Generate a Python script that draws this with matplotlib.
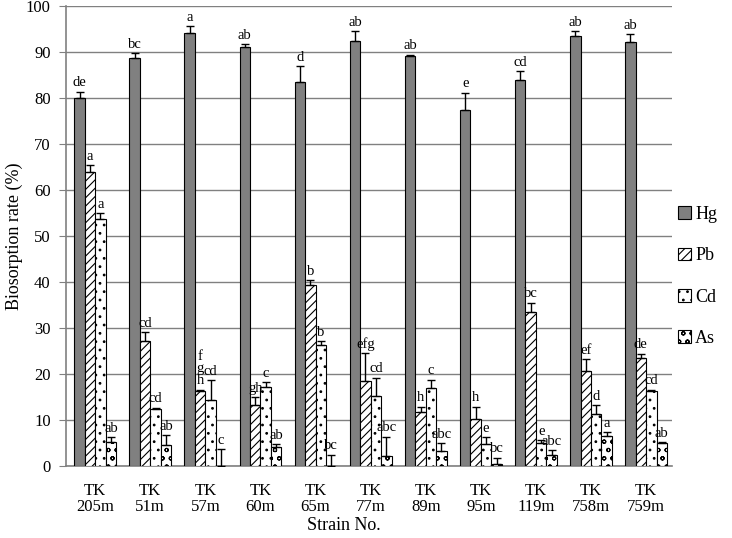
import numpy as np
import matplotlib
matplotlib.use('Agg')
import matplotlib.pyplot as plt

plt.rcParams['font.family'] = ['Liberation Serif', 'DejaVu Serif']
plt.rcParams['hatch.linewidth'] = 0.8

strains = ['205m', '51m', '57m', '60m', '65m', '77m', '89m', '95m', '119m', '758m', '759m']
metals = ['Hg', 'Pb', 'Cd', 'As']

# mean biosorption (%) and upper error for each metal
hg = [80.1, 88.8, 94.1, 91.2, 83.4, 92.4, 89.2, 77.3, 83.9, 93.5, 92.2]
hg_err = [1.3, 1.0, 1.6, 0.5, 3.6, 2.2, 0.2, 3.9, 1.9, 1.1, 1.7]
pb = [64.0, 27.2, 16.4, 13.2, 39.3, 18.4, 11.7, 10.3, 33.4, 20.7, 23.4]
pb_err = [1.4, 1.9, 0.2, 1.7, 1.1, 6.1, 1.2, 2.6, 2.1, 2.5, 1.0]
cd = [53.6, 12.3, 14.3, 17.2, 26.4, 15.2, 17.0, 4.8, 4.9, 11.4, 16.2]
cd_err = [1.3, 0.4, 4.3, 1.1, 0.8, 4.0, 1.8, 1.4, 0.7, 1.8, 0.4]
as_ = [5.2, 4.5, 0.0, 4.2, 0.0, 2.2, 3.3, 0.4, 2.5, 6.6, 4.9]
as_err = [1.1, 2.2, 3.7, 0.6, 2.5, 4.2, 1.6, 1.4, 0.9, 0.8, 0.3]

hg_let = ['de', 'bc', 'a', 'ab', 'd', 'ab', 'ab', 'e', 'cd', 'ab', 'ab']
pb_let = ['a', 'cd', 'f\ng\nh', 'gh', 'b', 'efg', 'h', 'h', 'bc', 'ef', 'de']
cd_let = ['a', 'cd', 'cd', 'c', 'b', 'cd', 'c', 'e', 'e', 'd', 'cd']
as_let = ['ab', 'ab', 'c', 'ab', 'bc', 'abc', 'abc', 'bc', 'abc', 'a', 'ab']

values = [hg, pb, cd, as_]
errors = [hg_err, pb_err, cd_err, as_err]
letters = [hg_let, pb_let, cd_let, as_let]
faces = ['#808080', 'white', 'white', 'white']
hatches = [None, '////', '..', 'oo']

fig = plt.figure(figsize=(7.32, 5.38), dpi=100)
ax = fig.add_axes([0.0902, 0.1338, 0.918 - 0.0902, 0.9888 - 0.1338])

x = np.arange(len(strains))
w = 0.19
for i in range(4):
    xs = x + (i - 1.5) * w + 0.03
    ax.bar(xs, values[i], w, color=faces[i], edgecolor='black', linewidth=0.8,
           hatch=hatches[i], label=metals[i], zorder=3)
    ax.errorbar(xs, values[i], yerr=[np.zeros(len(strains)), errors[i]], fmt='none',
                ecolor='black', elinewidth=1, capsize=3, capthick=1, zorder=4)
    for j in range(len(strains)):
        top = values[i][j] + errors[i][j]
        ax.text(xs[j], top + 0.5, letters[i][j], ha='center', va='bottom',
                fontsize=10.5, linespacing=0.9, zorder=5)

ax.set_xlim(-0.5, len(strains) - 0.5)
ax.set_ylim(0, 100)
ax.set_yticks(np.arange(0, 101, 10))
ax.set_xticks(x + 0.03)
ax.set_xticklabels(['TK\n' + s for s in strains], fontsize=12, linespacing=1.05)
ax.tick_params(axis='x', length=0, pad=12)
ax.tick_params(axis='y', length=5, color='#808080', labelsize=12, pad=6)
ax.yaxis.grid(True, color='#808080', linewidth=1)
ax.set_axisbelow(True)
for s in ['top', 'right']:
    ax.spines[s].set_visible(False)
ax.spines['left'].set_color('#808080')
ax.spines['bottom'].set_color('#808080')
ax.spines['left'].set_linewidth(1.2)
ax.spines['bottom'].set_linewidth(1.2)

ax.set_ylabel('Biosorption rate (%)', fontsize=13, labelpad=2)
fig.text(344 / 732, 1 - 525 / 538, 'Strain No.', ha='center', va='center', fontsize=13)

fig.legend(loc='upper left', bbox_to_anchor=(678 / 732, 1 - 206 / 538), frameon=False,
           fontsize=13, handlelength=0.7, handleheight=0.7, handletextpad=0.25,
           labelspacing=1.35, borderaxespad=0, borderpad=0)

fig.savefig('out.png', dpi=100)
